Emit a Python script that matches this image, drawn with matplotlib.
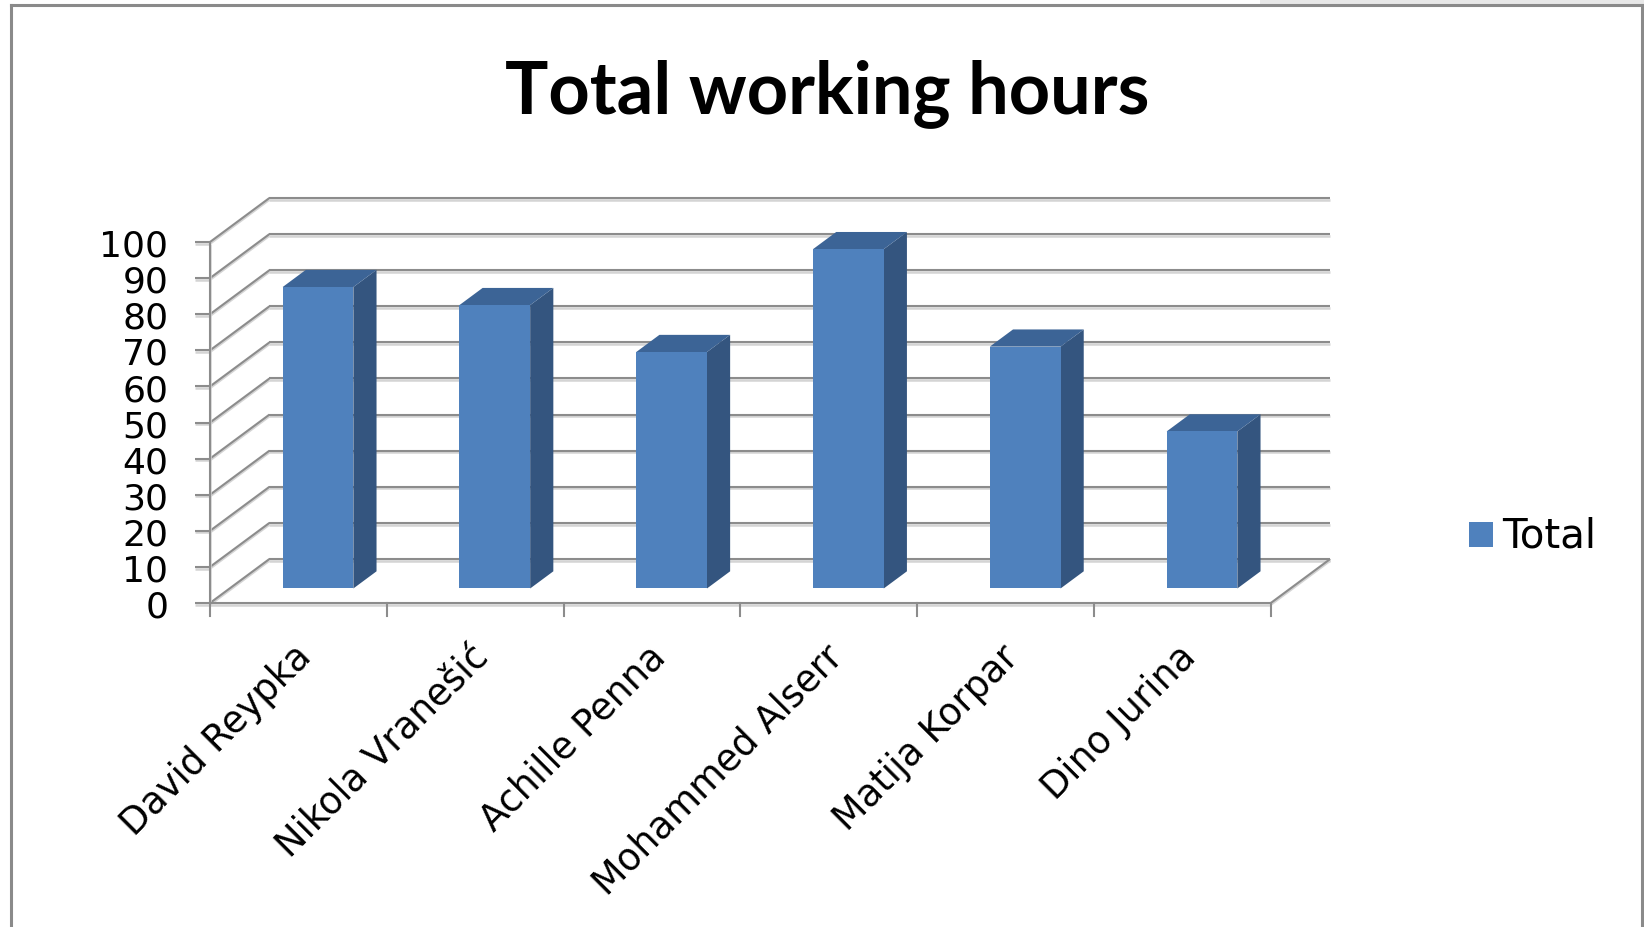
import matplotlib
matplotlib.use('Agg')
import matplotlib.pyplot as plt
from matplotlib.patches import Polygon, Rectangle
from matplotlib.lines import Line2D

names = ['David Reypka', 'Nikola Vranešić', 'Achille Penna', 'Mohammed Alserr', 'Matija Korpar', 'Dino Jurina']
hours = [83.5, 78.5, 65.5, 94, 67, 43.5]
yticks = [0, 10, 20, 30, 40, 50, 60, 70, 80, 90, 100]
series_name = 'Total'

W, H = 1644, 928
# pixel geometry of the front plane
x0_px, cat_px = 210, 176.8
y0_px, unit_px = 604, 3.61
# oblique depth offset (data units)
ox, oy = 0.336, 12.19
f0, f1 = 0.33, 0.72
bw = 0.40

front_c = '#4F81BD'
side_c = '#34557F'
top_c = '#3C6496'
grid_c = '#8c8c8c'
shadow_c = '#d4d4d4'

fig = plt.figure(figsize=(W / 100, H / 100), dpi=100)
fig.patch.set_facecolor('white')
ax = fig.add_axes([0, 0, 1, 1])
ax.set_xlim(-x0_px / cat_px, (W - x0_px) / cat_px)
ax.set_ylim(-(H - y0_px) / unit_px, y0_px / unit_px)
ax.axis('off')

n = len(names)

def gline(xs, ys, z=1):
    ax.plot(xs, [y - 0.45 for y in ys], color=shadow_c, lw=1.8, zorder=z, solid_capstyle='butt')
    ax.plot(xs, ys, color=grid_c, lw=1.5, zorder=z + 0.1, solid_capstyle='butt')

# back wall + left wall
for v in yticks:
    gline([ox, n + ox], [v + oy, v + oy])
    gline([0, ox], [v, v + oy])
# floor
gline([0, n], [0, 0], z=2)
gline([n, n + ox], [0, oy], z=2)
# front value axis and ticks
gline([0, 0], [0, yticks[-1]], z=2)
for v in yticks:
    gline([-0.085, 0], [v, v], z=2)
    ax.text(-0.235, v - 1.0, str(v), ha='right', va='center', fontsize=26,
            fontfamily='DejaVu Sans', color='black')
for i in range(n + 1):
    ax.plot([i, i], [0, -3.6], color=grid_c, lw=1.5, zorder=2)

# bars
for i, v in enumerate(hours):
    xa = i + 0.5 - bw / 2
    xb = i + 0.5 + bw / 2
    front = [(xa + f0 * ox, f0 * oy), (xb + f0 * ox, f0 * oy),
             (xb + f0 * ox, v + f0 * oy), (xa + f0 * ox, v + f0 * oy)]
    side = [(xb + f0 * ox, f0 * oy), (xb + f1 * ox, f1 * oy),
            (xb + f1 * ox, v + f1 * oy), (xb + f0 * ox, v + f0 * oy)]
    top = [(xa + f0 * ox, v + f0 * oy), (xb + f0 * ox, v + f0 * oy),
           (xb + f1 * ox, v + f1 * oy), (xa + f1 * ox, v + f1 * oy)]
    ax.add_patch(Polygon(side, closed=True, facecolor=side_c, edgecolor='none', zorder=5))
    ax.add_patch(Polygon(top, closed=True, facecolor=top_c, edgecolor='none', zorder=5))
    ax.add_patch(Polygon(front, closed=True, facecolor=front_c, edgecolor='none', zorder=6))

# category labels
for i, name in enumerate(names):
    ax.text(i + 0.47, -9.5, name, rotation=45, rotation_mode='anchor',
            ha='right', va='top', fontsize=26.5, fontfamily='DejaVu Sans', color='black')

# title
fig.text(827 / W, 1 - 113 / H, 'Total working hours', ha='center', va='baseline',
         fontsize=52, fontfamily='Lato', fontweight='bold', color='black')

# legend
fig.patches.append(Rectangle((1469 / W, 1 - 548 / H), 24 / W, 25 / H,
                             transform=fig.transFigure, facecolor=front_c, edgecolor='none'))
fig.text(1502 / W, 1 - 537 / H, series_name, ha='left', va='center', fontsize=29,
         fontfamily='DejaVu Sans', color='black')

# chart frame
fig.patches.append(Rectangle((1260 / W, 1 - 5 / H), (W - 1260) / W, 5 / H,
                             transform=fig.transFigure, facecolor='#e8e8e8', edgecolor='none'))
fig.lines.append(Line2D([11 / W, 11 / W], [0, 1 - 6 / H], transform=fig.transFigure, color='#8a8a8a', lw=2.2))
fig.lines.append(Line2D([11 / W, 1642 / W], [1 - 6 / H, 1 - 6 / H], transform=fig.transFigure, color='#8a8a8a', lw=2.2))
fig.lines.append(Line2D([1642 / W, 1642 / W], [0, 1 - 6 / H], transform=fig.transFigure, color='#8a8a8a', lw=2.2))

fig.savefig('out.png', dpi=100)
